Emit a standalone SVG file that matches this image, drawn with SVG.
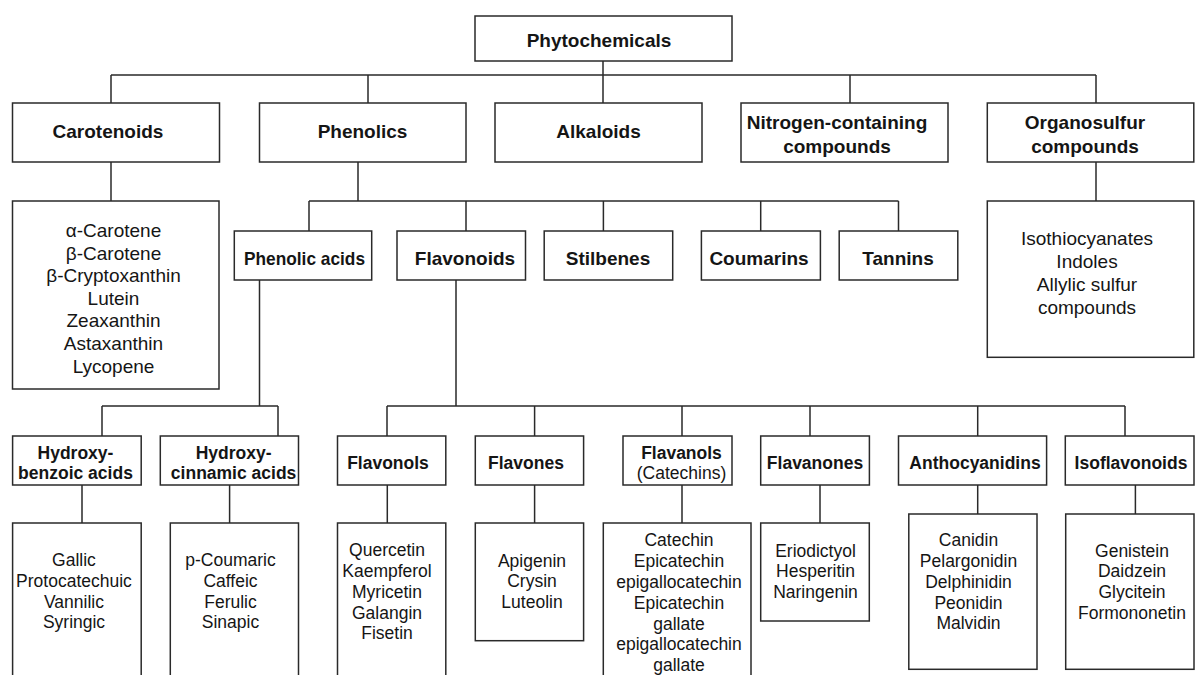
<svg xmlns="http://www.w3.org/2000/svg" width="1195" height="675" viewBox="0 0 1195 675">
<style>
.box{fill:#fff;stroke:#2a2a2a;stroke-width:1.5}
.ln{fill:none;stroke:#2a2a2a;stroke-width:1.5}
text{font-family:"Liberation Sans",Arial,sans-serif;fill:#151515;text-anchor:middle}
.h1{font-size:19px;font-weight:bold}
.h2{font-size:19px;font-weight:bold}
.h3{font-size:17.5px;font-weight:bold}
.l1{font-size:19px}
.l4{font-size:17.5px}
.r3{font-size:17.5px}
</style>
<rect width="1195" height="675" fill="#fff"/>
<g id="connectors" class="ln">
<path d="M603,61V103M111,75H1096M111,75V103M368,75V103M850,75V103M1096,75V103"/>
<path d="M111,162V201"/>
<path d="M358,162V201M309,201H898.5M309,201V231M466,201V231M603.4,201V231M760.7,201V231M898.5,201V231"/>
<path d="M1096,162V201"/>
<path d="M259.5,280V406M102,406H278M102,406V436M278,406V436"/>
<path d="M456,280V406M387,406H1125M387,406V436M534.6,406V436M682,406V436M810,406V436M977.7,406V436M1125,406V436"/>
<path d="M82,485V523M229.6,485V523M387.3,485V523M534.6,485V523M682,485V523M820,485V523M977.7,485V514M1135.4,485V514"/>
</g>
<g id="phytochemicals"><rect class="box" x="475" y="16" width="257" height="45"/><text class="h1" x="599" y="46.8">Phytochemicals</text></g>
<g id="carotenoids"><rect class="box" x="12.5" y="103" width="207" height="59"/><text class="h1" x="108" y="137.5">Carotenoids</text></g>
<g id="phenolics"><rect class="box" x="259.5" y="103" width="206.5" height="59"/><text class="h1" x="362.5" y="137.5">Phenolics</text></g>
<g id="alkaloids"><rect class="box" x="495" y="103" width="207" height="59"/><text class="h1" x="598.5" y="137.5">Alkaloids</text></g>
<g id="nitrogen"><rect class="box" x="741" y="103" width="207" height="59"/><text class="h1" x="837" y="129.1">Nitrogen-containing</text><text class="h1" x="837" y="152.5">compounds</text></g>
<g id="organosulfur"><rect class="box" x="987.3" y="103" width="206.5" height="59"/><text class="h1" x="1085" y="129.1">Organosulfur</text><text class="h1" x="1085" y="152.5">compounds</text></g>
<g id="carotenoid-list"><rect class="box" x="12.5" y="201" width="206.5" height="188"/>
<text class="l1" x="113.5" y="236.8">α-Carotene</text><text class="l1" x="113.5" y="259.5">β-Carotene</text><text class="l1" x="113.5" y="282.2">β-Cryptoxanthin</text><text class="l1" x="113.5" y="304.9">Lutein</text><text class="l1" x="113.5" y="327.4">Zeaxanthin</text><text class="l1" x="113.5" y="350">Astaxanthin</text><text class="l1" x="113.5" y="372.8">Lycopene</text></g>
<g id="organosulfur-list"><rect class="box" x="987.3" y="201" width="206.5" height="156.3"/>
<text class="l1" x="1087" y="245">Isothiocyanates</text><text class="l1" x="1087" y="268.2">Indoles</text><text class="l1" x="1087" y="291.2">Allylic sulfur</text><text class="l1" x="1087" y="314.2">compounds</text></g>
<g id="phenolic-acids"><rect class="box" x="234.3" y="231" width="137.4" height="49"/><text class="h2" x="304.5" y="265" textLength="121" lengthAdjust="spacingAndGlyphs">Phenolic acids</text></g>
<g id="flavonoids"><rect class="box" x="397" y="231" width="128.5" height="49"/><text class="h2" x="465" y="265">Flavonoids</text></g>
<g id="stilbenes"><rect class="box" x="544.2" y="231" width="128.5" height="49"/><text class="h2" x="608" y="265">Stilbenes</text></g>
<g id="coumarins"><rect class="box" x="701.4" y="231" width="119" height="49"/><text class="h2" x="759" y="265">Coumarins</text></g>
<g id="tannins"><rect class="box" x="839.2" y="231" width="118.6" height="49"/><text class="h2" x="898" y="265">Tannins</text></g>
<g id="hydroxybenzoic"><rect class="box" x="12.6" y="436" width="128.6" height="49"/><text class="h3" x="75.5" y="459.3">Hydroxy-</text><text class="h3" x="75.5" y="479">benzoic acids</text></g>
<g id="hydroxycinnamic"><rect class="box" x="160.3" y="436" width="138.2" height="49"/><text class="h3" x="233.6" y="459.3">Hydroxy-</text><text class="h3" x="233.6" y="479">cinnamic acids</text></g>
<g id="flavonols"><rect class="box" x="337.5" y="436" width="108.3" height="49"/><text class="h3" x="388" y="469">Flavonols</text></g>
<g id="flavones"><rect class="box" x="475.3" y="436" width="108.3" height="49"/><text class="h3" x="526" y="469">Flavones</text></g>
<g id="flavanols"><rect class="box" x="623" y="436" width="109" height="49"/><text class="h3" x="681.5" y="459.3">Flavanols</text><text class="r3" x="681.5" y="479">(Catechins)</text></g>
<g id="flavanones"><rect class="box" x="760.7" y="436" width="108.7" height="49"/><text class="h3" x="815" y="469">Flavanones</text></g>
<g id="anthocyanidins"><rect class="box" x="898.5" y="436" width="148.1" height="49"/><text class="h3" x="975" y="469">Anthocyanidins</text></g>
<g id="isoflavonoids"><rect class="box" x="1065.3" y="436" width="128.7" height="49"/><text class="h3" x="1131" y="469">Isoflavonoids</text></g>
<g id="hydroxybenzoic-list"><rect class="box" x="12.6" y="523" width="128.6" height="170"/>
<text class="l4" x="74" y="566.3">Gallic</text><text class="l4" x="74" y="587.3">Protocatechuic</text><text class="l4" x="74" y="608">Vannilic</text><text class="l4" x="74" y="628.3">Syringic</text></g>
<g id="hydroxycinnamic-list"><rect class="box" x="170.3" y="523" width="128.2" height="170"/>
<text class="l4" x="230.5" y="566.3">p-Coumaric</text><text class="l4" x="230.5" y="587.3">Caffeic</text><text class="l4" x="230.5" y="608">Ferulic</text><text class="l4" x="230.5" y="628.3">Sinapic</text></g>
<g id="flavonols-list"><rect class="box" x="337.5" y="523" width="108.3" height="170"/>
<text class="l4" x="387" y="556.3">Quercetin</text><text class="l4" x="387" y="577.3">Kaempferol</text><text class="l4" x="387" y="598">Myricetin</text><text class="l4" x="387" y="618.6">Galangin</text><text class="l4" x="387" y="639.3">Fisetin</text></g>
<g id="flavones-list"><rect class="box" x="475.3" y="523" width="108.3" height="117.7"/>
<text class="l4" x="532" y="567">Apigenin</text><text class="l4" x="532" y="587.3">Crysin</text><text class="l4" x="532" y="608">Luteolin</text></g>
<g id="flavanols-list"><rect class="box" x="603.3" y="523" width="147.7" height="170"/>
<text class="l4" x="679" y="546.3">Catechin</text><text class="l4" x="679" y="567.3">Epicatechin</text><text class="l4" x="679" y="588.3">epigallocatechin</text><text class="l4" x="679" y="608.6">Epicatechin</text><text class="l4" x="679" y="629.6">gallate</text><text class="l4" x="679" y="650">epigallocatechin</text><text class="l4" x="679" y="671">gallate</text></g>
<g id="flavanones-list"><rect class="box" x="760.7" y="523" width="108.6" height="98"/>
<text class="l4" x="815.5" y="557">Eriodictyol</text><text class="l4" x="815.5" y="577.3">Hesperitin</text><text class="l4" x="815.5" y="598">Naringenin</text></g>
<g id="anthocyanidins-list"><rect class="box" x="908.8" y="514" width="128.2" height="155.3"/>
<text class="l4" x="968.5" y="546.3">Canidin</text><text class="l4" x="968.5" y="567.3">Pelargonidin</text><text class="l4" x="968.5" y="588">Delphinidin</text><text class="l4" x="968.5" y="608.6">Peonidin</text><text class="l4" x="968.5" y="629.3">Malvidin</text></g>
<g id="isoflavonoids-list"><rect class="box" x="1065.7" y="514" width="128.3" height="155.3"/>
<text class="l4" x="1132" y="557">Genistein</text><text class="l4" x="1132" y="577.3">Daidzein</text><text class="l4" x="1132" y="598">Glycitein</text><text class="l4" x="1132" y="618.6">Formononetin</text></g>
</svg>
